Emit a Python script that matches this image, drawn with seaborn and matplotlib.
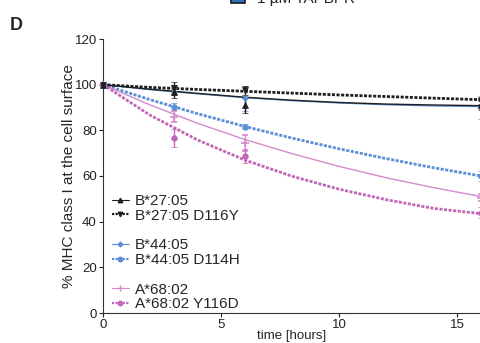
import numpy as np
import pandas as pd
import seaborn as sns
import matplotlib
matplotlib.use("Agg")
import matplotlib.pyplot as plt
from matplotlib.lines import Line2D
from matplotlib.patches import Rectangle

sns.set_style("ticks")
plt.rcParams['font.family'] = ['Liberation Sans', 'DejaVu Sans']

# ---- data ----
series = ["B*27:05", "B*27:05 D116Y", "B*44:05", "B*44:05 D114H", "A*68:02", "A*68:02 Y116D"]
t_points = [0, 3, 6, 16]
means = {
    "B*27:05":       [100, 97.0, 91.0, 91.0],
    "B*27:05 D116Y": [100, 98.5, 97.5, 93.0],
    "B*44:05":       [100, 97.0, 94.0, 90.0],
    "B*44:05 D114H": [100, 90.4, 81.6, 60.0],
    "A*68:02":       [100, 86.0, 74.5, 50.5],
    "A*68:02 Y116D": [100, 76.5, 68.8, 44.0],
}
errs = {
    "B*27:05":       [0, 3.0, 3.5, 2.0],
    "B*27:05 D116Y": [0, 2.5, 2.0, 1.5],
    "B*44:05":       [0, 1.5, 5.5, 5.0],
    "B*44:05 D114H": [0, 1.5, 1.0, 2.0],
    "A*68:02":       [0, 2.5, 3.5, 1.5],
    "A*68:02 Y116D": [0, 4.0, 3.0, 2.5],
}
t_fit = [0, 2, 4, 6, 8, 10, 12, 14, 16]
fits = {
    "B*27:05":       [100, 98.0, 96.2, 94.5, 93.2, 92.2, 91.5, 91.1, 90.8],
    "B*27:05 D116Y": [100, 98.8, 97.9, 97.1, 96.3, 95.5, 94.8, 94.1, 93.4],
    "B*44:05":       [100, 97.8, 96.0, 94.3, 93.0, 92.0, 91.2, 90.7, 90.4],
    "B*44:05 D114H": [100, 93.4, 87.3, 81.7, 76.6, 71.9, 67.6, 63.6, 60.0],
    "A*68:02":       [100, 91.1, 83.1, 76.0, 69.8, 64.2, 59.2, 54.9, 51.0],
    "A*68:02 Y116D": [100, 86.6, 75.8, 67.0, 59.9, 54.2, 49.6, 45.8, 43.5],
}

black, blue, pink, pink_l = "#1e1e1e", "#5b8fd6", "#c266b8", "#d48bcc"
style = {
    "B*27:05":       dict(color=black, lw=1.0, marker="^", ms=4, dash=False),
    "B*27:05 D116Y": dict(color=black, lw=2.0, marker="v", ms=4, dash=True),
    "B*44:05":       dict(color=blue, lw=1.0, marker="D", ms=3, dash=False),
    "B*44:05 D114H": dict(color=blue, lw=2.0, marker="o", ms=4, dash=True),
    "A*68:02":       dict(color=pink_l, lw=1.0, marker="+", ms=6, dash=False),
    "A*68:02 Y116D": dict(color=pink, lw=2.0, marker="o", ms=4, dash=True),
}

fig = plt.figure(figsize=(4.81, 3.43), dpi=100)
ax = fig.add_axes([103/481, 1-313/343, 1-103/481, (313-39)/343])

fit_df = pd.DataFrame([(s, t, v) for s in series for t, v in zip(t_fit, fits[s])],
                      columns=["series", "t", "v"])
order = ["B*44:05 D114H", "A*68:02", "A*68:02 Y116D", "B*44:05", "B*27:05", "B*27:05 D116Y"]
for s in order:
    st = style[s]
    d = fit_df[fit_df.series == s]
    sns.lineplot(data=d, x="t", y="v", ax=ax, color=st["color"], lw=st["lw"],
                 legend=False, zorder=2)
    ln = ax.lines[-1]
    if st["dash"]:
        ln.set_dashes((1.1, 0.55))
    ax.errorbar(t_points, means[s], yerr=errs[s], fmt=st["marker"], color=st["color"],
                ms=st["ms"], capsize=2, elinewidth=1, capthick=1, zorder=3, clip_on=False,
                mew=1.2 if st["marker"] == "+" else 0.5)

ax.set_xlim(0, 16)
ax.set_ylim(0, 120)
ax.set_xticks([0, 5, 10, 15])
ax.set_yticks([0, 20, 40, 60, 80, 100, 120])
ax.tick_params(labelsize=9.5, length=3, width=0.8, pad=1.5, colors="#222222")
for sp in ["left", "bottom"]:
    ax.spines[sp].set_linewidth(0.8)
    ax.spines[sp].set_color("#333333")
sns.despine(ax=ax)
ax.set_xlabel("time [hours]", fontsize=9.5, labelpad=-1)
ax.set_ylabel("% MHC class I at the cell surface", fontsize=11, labelpad=-1)

handles, labels = [], []
blank = Line2D([], [], color="none")
for i, s in enumerate(series):
    st = style[s]
    h = Line2D([], [], color=st["color"], lw=st["lw"] * 0.8, marker=st["marker"],
               ms=st["ms"] * 0.8, mew=1)
    if st["dash"]:
        h.set_dashes((1.0, 0.6))
    handles.append(h)
    labels.append(s)
    if i in (1, 3):
        handles.append(blank)
        labels.append("")
ax.legend(handles, labels, loc="lower left", bbox_to_anchor=(-0.005, -0.033), frameon=False,
          fontsize=11, handlelength=1.1, handletextpad=0.4, labelspacing=0.05,
          borderaxespad=0.3)

fig.text(10/481, 1-30/343, "D", fontsize=13, fontweight="bold")
fig.patches.append(Rectangle((231/481, 1-3/343), 14/481, 12/343, transform=fig.transFigure,
                             facecolor="#2f6fc0", edgecolor="#1a1a1a", lw=1.2, figure=fig))
fig.text(257/481, 1-2.5/343, "1 µM TAPBPR", fontsize=11, va="baseline")

fig.savefig("out.png", dpi=100)
